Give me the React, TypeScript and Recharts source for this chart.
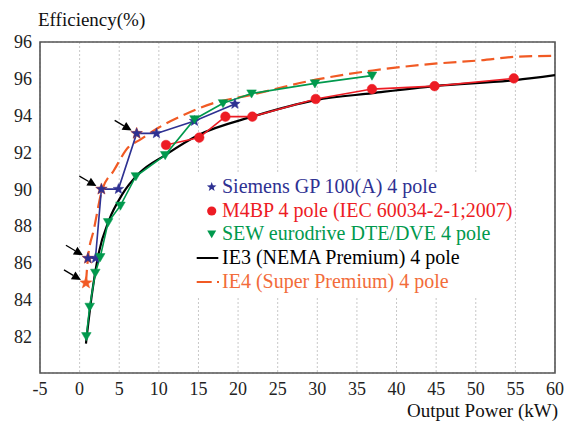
import React from 'react';
import {
  ComposedChart,
  Line,
  Scatter,
  XAxis,
  YAxis,
  CartesianGrid,
  ReferenceArea,
  Legend,
} from 'recharts';

const FONT = 'Liberation Serif, DejaVu Serif, serif';

const xTicks = [-5, 0, 5, 10, 15, 20, 25, 30, 35, 40, 45, 50, 55, 60];
const yTicks = [82, 84, 86, 88, 90, 92, 94, 96, 98];
// the top label of the original reads "96" as well
const yTickLabels = ['82', '84', '86', '88', '90', '92', '94', '96', '96'];
const gridTicks = [0, 1, 2, 3, 4, 5, 6, 7, 8, 9, 10, 11, 12, 13];

const siemens = [
  { x: 1.05, y: 86.24 },
  { x: 2.0, y: 86.24 },
  { x: 2.75, y: 90.0 },
  { x: 4.9, y: 90.0 },
  { x: 7.2, y: 93.03 },
  { x: 9.7, y: 93.03 },
  { x: 14.5, y: 93.7 },
  { x: 19.6, y: 94.63 },
];

const m4bp = [
  { x: 10.9, y: 92.4 },
  { x: 15.1, y: 92.8 },
  { x: 18.4, y: 93.94 },
  { x: 21.8, y: 93.94 },
  { x: 29.8, y: 94.9 },
  { x: 36.9, y: 95.44 },
  { x: 44.8, y: 95.6 },
  { x: 54.8, y: 96.02 },
];

const sew = [
  { x: 0.85, y: 82.0 },
  { x: 1.27, y: 83.6 },
  { x: 1.98, y: 85.45 },
  { x: 2.6, y: 86.3 },
  { x: 3.6, y: 88.2 },
  { x: 5.15, y: 89.1 },
  { x: 7.1, y: 90.7 },
  { x: 10.8, y: 91.85 },
  { x: 14.5, y: 93.8 },
  { x: 18.1, y: 94.67 },
  { x: 21.7, y: 95.2 },
  { x: 29.7, y: 95.75 },
  { x: 36.9, y: 96.17 },
];

const ie3 = [
  { x: 0.8, y: 81.6 },
  { x: 1.56, y: 84.3 },
  { x: 2.4, y: 86.5 },
  { x: 3.7, y: 88.3 },
  { x: 5.36, y: 89.7 },
  { x: 7.5, y: 90.86 },
  { x: 10.8, y: 91.85 },
  { x: 15, y: 92.94 },
  { x: 21.8, y: 93.94 },
  { x: 29.8, y: 94.84 },
  { x: 37, y: 95.22 },
  { x: 44.8, y: 95.6 },
  { x: 55, y: 95.93 },
  { x: 60, y: 96.2 },
];

const ie4 = [
  { x: 0.8, y: 84.9 },
  { x: 1.05, y: 86.24 },
  { x: 1.8, y: 87.8 },
  { x: 2.8, y: 89.9 },
  { x: 4.3, y: 91.0 },
  { x: 6.2, y: 92.3 },
  { x: 7.5, y: 92.65 },
  { x: 10, y: 93.35 },
  { x: 13, y: 94.0 },
  { x: 16.7, y: 94.65 },
  { x: 21.4, y: 95.1 },
  { x: 29.8, y: 95.95 },
  { x: 37, y: 96.45 },
  { x: 44.8, y: 96.82 },
  { x: 50.5, y: 97.0 },
  { x: 55.2, y: 97.2 },
  { x: 60, y: 97.25 },
];

// points marked with arrows
const marked = [
  { x: 0.8, y: 84.9 },
  { x: 1.05, y: 86.24 },
  { x: 2.75, y: 90.0 },
  { x: 7.2, y: 93.03 },
];

const BLUE = '#2e3192';
const RED = '#ed1c24';
const GREEN = '#00994d';
const ORANGE = '#f15a24';

const legendNames = [
  'Siemens GP 100(A) 4 pole',
  'M4BP 4 pole (IEC 60034-2-1;2007)',
  'SEW eurodrive DTE/DVE 4 pole',
  'IE3 (NEMA Premium) 4 pole',
  'IE4 (Super Premium) 4 pole',
];
const legendColors = [BLUE, RED, GREEN, '#000', '#f26c3a'];

function starPath(cx: number, cy: number, R: number, r: number) {
  let d = '';
  for (let i = 0; i < 10; i++) {
    const a = -Math.PI / 2 + (i * Math.PI) / 5;
    const rad = i % 2 === 0 ? R : r;
    d += (i === 0 ? 'M' : 'L') + (cx + rad * Math.cos(a)).toFixed(2) + ',' + (cy + rad * Math.sin(a)).toFixed(2);
  }
  return d + 'Z';
}

function Star({ cx, cy, color, R = 5.5 }: any) {
  if (cx == null || cy == null) return null;
  return <path d={starPath(cx, cy, R, R * 0.42)} fill={color} stroke={color} strokeWidth={0.5} />;
}

function Tri({ cx, cy, color }: any) {
  if (cx == null || cy == null) return null;
  return (
    <path
      d={`M${cx - 4.8},${cy - 3.6}L${cx + 4.8},${cy - 3.6}L${cx},${cy + 4.6}Z`}
      fill={color}
      stroke={color}
      strokeWidth={0.5}
    />
  );
}

function MarkedStar({ cx, cy }: any) {
  if (cx == null || cy == null) return null;
  const tx = cx - 22;
  const ty = cy - 13;
  const hx = cx - 5;
  const hy = cy - 3;
  const len = Math.hypot(hx - tx, hy - ty);
  const ux = (hx - tx) / len;
  const uy = (hy - ty) / len;
  const bx = hx - ux * 9;
  const by = hy - uy * 9;
  return (
    <g>
      <line x1={tx} y1={ty} x2={bx} y2={by} stroke="#000" strokeWidth={1.3} />
      <path
        d={`M${hx},${hy}L${bx - uy * 4.5},${by + ux * 4.5}L${bx + uy * 4.5},${by - ux * 4.5}Z`}
        fill="#000"
      />
      <path d={starPath(cx, cy, 6.2, 2.6)} fill={ORANGE} stroke={ORANGE} strokeWidth={0.5} />
    </g>
  );
}

function LegendIcon({ i }: { i: number }) {
  const c = legendColors[i];
  return (
    <svg width={34} height={20} style={{ flex: 'none' }}>
      {i === 0 && <path d={starPath(23.7, 10, 5, 2.1)} fill={c} />}
      {i === 1 && <circle cx={23.7} cy={10} r={4.6} fill={c} />}
      {i === 2 && <path d="M19.2,6.6L28.2,6.6L23.7,14.2Z" fill={c} />}
      {i === 3 && <line x1={8.7} y1={10} x2={30.3} y2={10} stroke="#000" strokeWidth={2} />}
      {i === 4 && (
        <g stroke={ORANGE} strokeWidth={2}>
          <line x1={8.7} y1={10} x2={23.7} y2={10} />
          <line x1={29} y1={10} x2={31} y2={10} />
        </g>
      )}
    </svg>
  );
}

function renderLegend() {
  return (
    <div
      style={{
        background: '#fff',
        width: 326,
        height: 124,
        paddingTop: 3,
        boxSizing: 'border-box',
        fontFamily: FONT,
        fontSize: 20,
      }}
    >
      {legendNames.map((name, i) => (
        <div key={name} style={{ display: 'flex', alignItems: 'center', height: 23.7, whiteSpace: 'nowrap' }}>
          <LegendIcon i={i} />
          <span style={{ color: legendColors[i], lineHeight: '23.7px' }}>{name}</span>
        </div>
      ))}
    </div>
  );
}

export default function App() {
  const tickStyle = { fontSize: 18, fill: '#222', fontFamily: FONT };
  return (
    <div style={{ position: 'absolute', left: 0, top: 0, width: 574, height: 428, background: '#fff' }}>
      <ComposedChart width={574} height={428} margin={{ top: 42, right: 19, bottom: 25, left: 4 }}>
        <XAxis
          type="number"
          dataKey="x"
          domain={[-5, 60]}
          ticks={xTicks}
          interval={0}
          tickLine={false}
          axisLine={false}
          tickSize={0}
          tickMargin={9}
          height={30}
          tick={tickStyle}
          allowDataOverflow
        />
        <YAxis
          type="number"
          dataKey="y"
          domain={[80, 98]}
          ticks={yTicks}
          interval={0}
          tickLine={false}
          axisLine={false}
          tickSize={0}
          tickMargin={8}
          width={36}
          tick={tickStyle}
          tickFormatter={(_v: number, i: number) => yTickLabels[i]}
          allowDataOverflow
        />
        <YAxis yAxisId="grid" type="number" domain={[0, 13]} ticks={gridTicks} hide />
        <CartesianGrid yAxisId="grid" stroke="#c8c8c8" strokeDasharray="2 2" />
        <ReferenceArea x1={-5} x2={60} y1={80} y2={98} fill="none" stroke="#555" strokeWidth={1.6} />
        <Legend
          layout="vertical"
          align="center"
          verticalAlign="middle"
          content={renderLegend}
          wrapperStyle={{ left: 188, top: 172, width: 326, height: 124 }}
        />
        <Line
          data={ie3}
          dataKey="y"
          name="IE3 (NEMA Premium) 4 pole"
          stroke="#000"
          strokeWidth={2.2}
          dot={false}
          type="monotone"
          isAnimationActive={false}
        />
        <Line
          data={m4bp}
          dataKey="y"
          name="M4BP 4 pole (IEC 60034-2-1;2007)"
          stroke={RED}
          strokeWidth={1.6}
          dot={{ r: 4.8, fill: RED, stroke: RED, strokeWidth: 0.5 }}
          type="linear"
          isAnimationActive={false}
        />
        <Line
          data={ie4}
          dataKey="y"
          name="IE4 (Super Premium) 4 pole"
          stroke={ORANGE}
          strokeWidth={2.2}
          strokeDasharray="13 6"
          dot={false}
          type="monotone"
          isAnimationActive={false}
        />
        <Line
          data={siemens}
          dataKey="y"
          name="Siemens GP 100(A) 4 pole"
          stroke={BLUE}
          strokeWidth={1.6}
          dot={(p: any) => <Star key={`s${p.index}`} cx={p.cx} cy={p.cy} color={BLUE} />}
          type="linear"
          isAnimationActive={false}
        />
        <Line
          data={sew}
          dataKey="y"
          name="SEW eurodrive DTE/DVE 4 pole"
          stroke={GREEN}
          strokeWidth={1.6}
          dot={(p: any) => <Tri key={`t${p.index}`} cx={p.cx} cy={p.cy} color={GREEN} />}
          type="linear"
          isAnimationActive={false}
        />
        <Scatter
          data={marked}
          dataKey="y"
          name="marked"
          shape={(p: any) => <MarkedStar cx={p.cx} cy={p.cy} />}
          isAnimationActive={false}
        />
      </ComposedChart>
      <div
        style={{
          position: 'absolute',
          left: 38,
          top: 9,
          fontFamily: FONT,
          fontSize: 19,
          lineHeight: '22px',
          color: '#111',
          whiteSpace: 'nowrap',
        }}
      >
        Efficiency(%)
      </div>
      <div
        style={{
          position: 'absolute',
          right: 16,
          top: 400,
          fontFamily: FONT,
          fontSize: 19,
          lineHeight: '22px',
          color: '#111',
          whiteSpace: 'nowrap',
        }}
      >
        Output Power (kW)
      </div>
    </div>
  );
}
